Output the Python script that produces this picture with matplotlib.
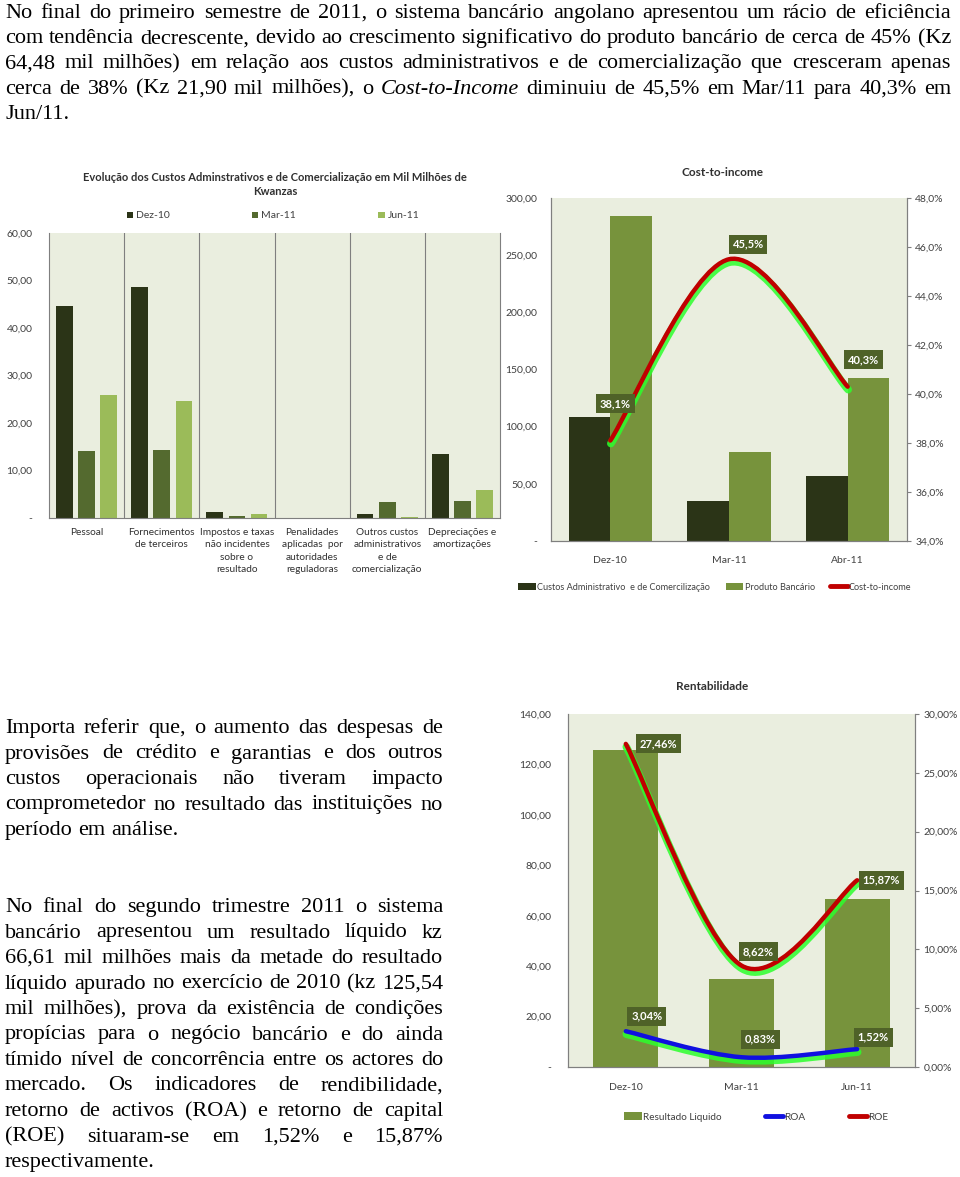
import matplotlib
matplotlib.use('Agg')
import matplotlib.pyplot as plt
import matplotlib.transforms as mtransforms
from matplotlib.path import Path
from matplotlib.patches import PathPatch, Patch
from matplotlib.lines import Line2D
from matplotlib.ticker import FuncFormatter, MultipleLocator

W, H = 960, 1177

# ---- texto ----
par1 = ["No final do primeiro semestre de 2011, o sistema bancário angolano apresentou um rácio de eficiência",
        "com tendência decrescente, devido ao crescimento significativo do produto bancário de cerca de 45% (Kz",
        "64,48 mil milhões) em relação aos custos administrativos e de comercialização que cresceram apenas",
        "cerca de 38% (Kz 21,90 mil milhões), o _Cost-to-Income diminuiu de 45,5% em Mar/11 para 40,3% em",
        "Jun/11."]
par2 = ["Importa referir que, o aumento das despesas de",
        "provisões de crédito e garantias e dos outros",
        "custos operacionais não tiveram impacto",
        "comprometedor no resultado das instituições no",
        "período em análise."]
par3 = ["No final do segundo trimestre 2011 o sistema",
        "bancário apresentou um resultado líquido kz",
        "66,61 mil milhões mais da metade do resultado",
        "líquido apurado no exercício de 2010 (kz 125,54",
        "mil milhões), prova da existência de condições",
        "propícias para o negócio bancário e do ainda",
        "tímido nível de concorrência entre os actores do",
        "mercado. Os indicadores de rendibilidade,",
        "retorno de activos (ROA) e retorno de capital",
        "(ROE) situaram-se em 1,52% e 15,87%",
        "respectivamente."]

# ---- grafico 1: custos ----
custos_cats = ["Pessoal", "Fornecimentos\nde terceiros", "Impostos e taxas\nnão incidentes\nsobre o\nresultado",
               "Penalidades\naplicadas  por\nautoridades\nreguladoras",
               "Outros custos\nadministrativos\ne de\ncomercialização", "Depreciações e\namortizações"]
custos_series = ["Dez-10", "Mar-11", "Jun-11"]
custos_dez = [44.7, 48.6, 1.3, 0.1, 0.8, 13.5]
custos_mar = [14.1, 14.3, 0.4, 0.1, 3.4, 3.6]
custos_jun = [26.0, 24.7, 0.9, 0.1, 0.3, 5.8]

# ---- grafico 2: cost-to-income ----
cti_cats = ["Dez-10", "Mar-11", "Abr-11"]
cti_custos = [108.4, 35.0, 57.0]
cti_produto = [284.0, 78.0, 142.7]
cti_ratio = [38.1, 45.5, 40.3]

# ---- grafico 3: rentabilidade ----
rent_cats = ["Dez-10", "Mar-11", "Jun-11"]
rent_resultado = [125.54, 35.0, 66.61]
rent_roa = [3.04, 0.83, 1.52]
rent_roe = [27.46, 8.62, 15.87]

DARK = '#2b3417'
MID = '#546a2f'
LIGHT = '#9bbb59'
OLIVE = '#77933c'
BG = '#eaeedf'
LBL = '#4f6228'
SANS = ['Lato', 'DejaVu Sans']

plt.rcParams['font.family'] = SANS
plt.rcParams['font.size'] = 7.5
plt.rcParams['text.color'] = '#404040'
plt.rcParams['xtick.color'] = '#404040'
plt.rcParams['ytick.color'] = '#404040'

fig = plt.figure(figsize=(W / 100, H / 100), dpi=100)
renderer = fig.canvas.get_renderer()


def fx(px):
    return px / W


def fy(py):
    return 1 - py / H


def justified(lines, x0, x1, base0, dy, size=16):
    for i, line in enumerate(lines):
        words = line.split(' ')
        texts = []
        for w in words:
            style = 'normal'
            if w.startswith('_'):
                w, style = w[1:], 'italic'
            texts.append(fig.text(0, 0, w, fontsize=size, family='Liberation Serif',
                                  style=style, color='black', va='baseline', ha='left'))
        widths = [t.get_window_extent(renderer).width for t in texts]
        if i == len(lines) - 1 or len(words) == 1:
            sp = fig.text(0, 0, 'a a', fontsize=size, family='Liberation Serif')
            sp2 = fig.text(0, 0, 'aa', fontsize=size, family='Liberation Serif')
            gap = sp.get_window_extent(renderer).width - sp2.get_window_extent(renderer).width
            sp.remove(); sp2.remove()
        else:
            gap = (x1 - x0 - sum(widths)) / (len(words) - 1)
        x = x0
        y = base0 + i * dy
        for t, w in zip(texts, widths):
            t.set_position((fx(x), fy(y)))
            x += w + gap


justified(par1, 5, 951, 18, 25.2)
justified(par2, 5, 443, 733, 25.5)
justified(par3, 5, 443, 912, 25.5)


def smooth_path(xs, ys):
    n = len(xs)
    verts = [(xs[0], ys[0])]
    codes = [Path.MOVETO]
    for i in range(n - 1):
        a = i - 1 if i > 0 else i
        d = i + 2 if i + 2 < n else i + 1
        c1 = (xs[i] + (xs[i + 1] - xs[a]) / 6, ys[i] + (ys[i + 1] - ys[a]) / 6)
        c2 = (xs[i + 1] - (xs[d] - xs[i]) / 6, ys[i + 1] - (ys[d] - ys[i]) / 6)
        verts += [c1, c2, (xs[i + 1], ys[i + 1])]
        codes += [Path.CURVE4] * 3
    return Path(verts, codes)


def glow_line(ax, xs, ys, color):
    path = smooth_path(xs, ys)
    shadow = mtransforms.offset_copy(ax.transData, fig=fig, x=0.5, y=-3, units='dots')
    ax.add_patch(PathPatch(path, fc='none', ec='#2cff2c', lw=5.5, alpha=0.85,
                           transform=shadow, zorder=3, capstyle='round'))
    ax.add_patch(PathPatch(path, fc='none', ec=color, lw=3.2, zorder=4, capstyle='round'))


def tag(ax, x, y, txt, dx, dy):
    ax.annotate(txt, xy=(x, y), xytext=(dx, -dy), textcoords='offset pixels',
                ha='center', va='center', color='white', fontsize=8, fontweight='bold',
                bbox=dict(boxstyle='square,pad=0.35', fc=LBL, ec='none'), zorder=6)


def money(v, pos):
    return '-' if abs(v) < 1e-9 else f'{v:.2f}'.replace('.', ',')


def style_spines(*axes):
    for a in axes:
        a.spines['top'].set_visible(False)
        for s in ['left', 'bottom', 'right']:
            a.spines[s].set_color('#7f7f7f')
            a.spines[s].set_linewidth(0.8)


# ================= grafico 1 =================
ax1 = fig.add_axes([fx(49), fy(518), fx(451), 285 / H])
ax1.set_facecolor(BG)
xs = list(range(len(custos_cats)))
for k, (vals, col) in enumerate(zip([custos_dez, custos_mar, custos_jun], [DARK, MID, LIGHT])):
    ax1.bar([x + (k - 1) * 0.295 for x in xs], vals, width=0.22, color=col,
            label=custos_series[k], zorder=2)
for b in range(1, len(custos_cats)):
    ax1.axvline(b - 0.5, color='#7f7f7f', lw=0.8, zorder=1)
ax1.set_xlim(-0.5, len(custos_cats) - 0.5)
ax1.set_ylim(0, 60)
ax1.yaxis.set_major_locator(MultipleLocator(10))
ax1.yaxis.set_major_formatter(FuncFormatter(money))
ax1.set_xticks(xs)
ax1.set_xticklabels(custos_cats, linespacing=1.5, fontsize=7.3, color='#303030')
ax1.tick_params(axis='y', length=0, pad=12, labelsize=7.5)
ax1.tick_params(axis='x', length=0, pad=7)
style_spines(ax1)
fig.text(fx(275), fy(184.5), "Evolução dos Custos Adminstrativos e de Comercialização em Mil Milhões de\nKwanzas",
         ha='center', va='center', fontsize=8, fontweight='bold', linespacing=1.35, color='#303030')
ax1.legend(loc='center', bbox_to_anchor=(fx(273), fy(216)), bbox_transform=fig.transFigure,
           ncol=3, frameon=False, handlelength=0.6, handleheight=0.6, handletextpad=0.3,
           columnspacing=7.9, fontsize=7.5)

# ================= grafico 2 =================
ax2 = fig.add_axes([fx(551), fy(541), fx(356), 343 / H])
ax2.set_facecolor(BG)
xs2 = list(range(len(cti_cats)))
ax2.bar([x - 0.175 for x in xs2], cti_custos, width=0.35, color=DARK, zorder=2)
ax2.bar([x + 0.175 for x in xs2], cti_produto, width=0.35, color=OLIVE, zorder=2)
ax2.set_xlim(-0.5, len(cti_cats) - 0.5)
ax2.set_ylim(0, 300)
ax2.yaxis.set_major_locator(MultipleLocator(50))
ax2.yaxis.set_major_formatter(FuncFormatter(money))
ax2.set_xticks(xs2)
ax2.set_xticklabels(cti_cats)
ax2.tick_params(axis='y', length=0, pad=10)
ax2.tick_params(axis='x', length=0, pad=10.5)
ax2r = ax2.twinx()
ax2r.set_ylim(34, 48)
ax2r.yaxis.set_major_locator(MultipleLocator(2))
ax2r.yaxis.set_major_formatter(FuncFormatter(lambda v, p: f'{v:.1f}%'.replace('.', ',')))
ax2r.tick_params(axis='y', length=3, color='#7f7f7f', pad=3)
glow_line(ax2r, xs2, cti_ratio, '#c00000')
for x, v, (dx, dy) in zip(xs2, cti_ratio, [(5, -37), (19, -15), (16, -27)]):
    tag(ax2r, x, v, f'{v:.1f}%'.replace('.', ','), dx, dy)
style_spines(ax2, ax2r)
fig.text(fx(723), fy(172), "Cost-to-income", ha='center', va='center', fontsize=8.5,
         fontweight='bold', color='#303030')
h2 = [Patch(fc=DARK), Patch(fc=OLIVE),
      Line2D([], [], color='#c00000', lw=3.5, solid_capstyle='round')]
ax2.legend(h2, ["Custos Administrativo  e de Comercilização", "Produto Bancário", "Cost-to-income"],
           loc='center', bbox_to_anchor=(fx(715), fy(587)), bbox_transform=fig.transFigure,
           ncol=3, frameon=False, handlelength=1.9, handleheight=0.75, handletextpad=0.15,
           columnspacing=1.7, fontsize=6.6)

# ================= grafico 3 =================
ax3 = fig.add_axes([fx(568), fy(1067), fx(347), 353 / H])
ax3.set_facecolor(BG)
xs3 = list(range(len(rent_cats)))
ax3.bar(xs3, rent_resultado, width=0.56, color=OLIVE, zorder=2)
ax3.set_xlim(-0.5, len(rent_cats) - 0.5)
ax3.set_ylim(0, 140)
ax3.yaxis.set_major_locator(MultipleLocator(20))
ax3.yaxis.set_major_formatter(FuncFormatter(money))
ax3.set_xticks(xs3)
ax3.set_xticklabels(rent_cats)
ax3.tick_params(axis='y', length=0, pad=12)
ax3.tick_params(axis='x', length=0, pad=11.5)
ax3r = ax3.twinx()
ax3r.set_ylim(0, 30)
ax3r.yaxis.set_major_locator(MultipleLocator(5))
ax3r.yaxis.set_major_formatter(FuncFormatter(lambda v, p: f'{v:.2f}%'.replace('.', ',')))
ax3r.tick_params(axis='y', length=3, color='#7f7f7f', pad=3)
glow_line(ax3r, xs3, rent_roe, '#c00000')
glow_line(ax3r, xs3, rent_roa, '#1010e0')
for x, v, (dx, dy) in zip(xs3, rent_roe, [(33, 0), (17, -14), (24, 0)]):
    tag(ax3r, x, v, f'{v:.2f}%'.replace('.', ','), dx, dy)
for x, v, (dx, dy) in zip(xs3, rent_roa, [(21, -15), (19, -18), (16, -12)]):
    tag(ax3r, x, v, f'{v:.2f}%'.replace('.', ','), dx, dy)
style_spines(ax3, ax3r)
fig.text(fx(712), fy(687), "Rentabilidade", ha='center', va='center', fontsize=8.5,
         fontweight='bold', color='#303030')
h3 = [Patch(fc=OLIVE), Line2D([], [], color='#1010e0', lw=3.5, solid_capstyle='round'),
      Line2D([], [], color='#c00000', lw=3.5, solid_capstyle='round')]
ax3.legend(h3, ["Resultado Liquido", "ROA", "ROE"],
           loc='center', bbox_to_anchor=(fx(756), fy(1117)), bbox_transform=fig.transFigure,
           ncol=3, frameon=False, handlelength=1.8, handleheight=0.75, handletextpad=0.1,
           columnspacing=4.4, fontsize=7.2)

fig.savefig('out.png', dpi=100)
